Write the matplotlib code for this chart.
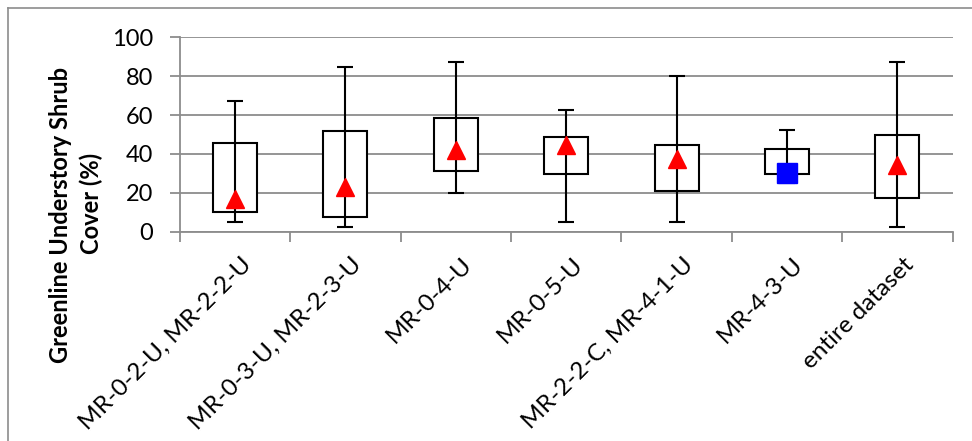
#!/usr/bin/env python3
import matplotlib
matplotlib.use("Agg")
import matplotlib.pyplot as plt
from matplotlib.lines import Line2D
from matplotlib.transforms import ScaledTranslation
import numpy as np

# valores
grupos = [
    "MR-0-2-U, MR-2-2-U",
    "MR-0-3-U, MR-2-3-U",
    "MR-0-4-U",
    "MR-0-5-U",
    "MR-2-2-C, MR-4-1-U",
    "MR-4-3-U",
    "entire dataset",
]
minimos = [5.0, 2.4, 19.9, 5.0, 5.0, 24.9, 2.4]
q1 = [10.0, 7.4, 31.1, 29.9, 20.9, 29.9, 17.1]
q3 = [45.5, 51.8, 58.5, 48.5, 44.8, 42.4, 49.9]
maximos = [67.4, 84.9, 87.3, 62.4, 79.9, 52.5, 87.3]
medias = [16.7, 23.2, 42.0, 44.6, 37.2, 30.0, 34.3]
marcadores = ["^", "^", "^", "^", "^", "s", "^"]
colores_marcador = ["#FF0000"] * 5 + ["#0000FF"] + ["#FF0000"]
yticks = [0, 20, 40, 60, 80, 100]
etiqueta_y = ["Greenline Understory Shrub", "Cover (%)"]

GRIS = "#8C8C8C"

plt.rcParams.update({
    "font.family": ["Lato", "DejaVu Sans"],
    "font.size": 17,
})

fig = plt.figure(figsize=(9.72, 4.41), dpi=100)
ax = fig.add_axes([0.185, 0.4746, 0.795, 0.4408])

x = np.arange(1, len(grupos) + 1)
minimos = np.array(minimos)
maximos = np.array(maximos)
q1 = np.array(q1)
q3 = np.array(q3)
centro = (minimos + maximos) / 2

ax.bar(x, q3 - q1, bottom=q1, width=0.4, color="white",
       edgecolor="black", linewidth=1.5, zorder=2)
ax.errorbar(x, centro, yerr=[centro - minimos, maximos - centro], fmt="none",
            ecolor="black", elinewidth=1.5, capsize=6, capthick=1.5, zorder=3)

for xi, m, mk, c in zip(x, medias, marcadores, colores_marcador):
    ms = 13 if mk == "^" else 14
    ax.plot(xi, m, marker=mk, color=c, markersize=ms, linestyle="none", zorder=4)

ax.set_xlim(0.5, len(grupos) + 0.5)
ax.set_ylim(0, 100)
ax.set_yticks(yticks)
ax.grid(axis="y", color=GRIS, linewidth=1.3, zorder=0)
ax.set_axisbelow(True)

ax.set_xticks(np.arange(0.5, len(grupos) + 1, 1))
ax.set_xticklabels([])
ax.set_xticks(x, minor=True)
ax.set_xticklabels(grupos, minor=True, rotation=45, ha="right", va="top",
                   rotation_mode="anchor", fontsize=17.5)
ax.tick_params(axis="x", which="minor", length=0, pad=16)
ax.tick_params(axis="x", which="major", length=7, width=1.3, color=GRIS)
ax.tick_params(axis="y", length=7, width=1.3, color=GRIS, pad=12)
# pequeno desplazamiento a la derecha de las etiquetas giradas
for lbl in ax.get_xticklabels(minor=True):
    lbl.set_transform(lbl.get_transform() + ScaledTranslation(4 / 72, 0, fig.dpi_scale_trans))

for lado in ["top", "right"]:
    ax.spines[lado].set_visible(False)
for lado in ["left", "bottom"]:
    ax.spines[lado].set_color(GRIS)
    ax.spines[lado].set_linewidth(1.3)

# etiqueta del eje Y: una linea de texto por renglon, cada una centrada
for texto, (px, py) in zip(etiqueta_y, [(60, 215), (91, 203)]):
    fig.text(px / 972, 1 - py / 441, texto, rotation=90, ha="center",
             va="center", fontweight="bold", fontsize=17)

# marco exterior (solo borde superior e izquierdo visibles)
fig.add_artist(Line2D([8 / 972, 1], [1 - 8 / 441, 1 - 8 / 441],
                      transform=fig.transFigure, color=GRIS, linewidth=1.2))
fig.add_artist(Line2D([8 / 972, 8 / 972], [0, 1 - 8 / 441],
                      transform=fig.transFigure, color=GRIS, linewidth=1.2))

fig.savefig("out.png", dpi=100)
